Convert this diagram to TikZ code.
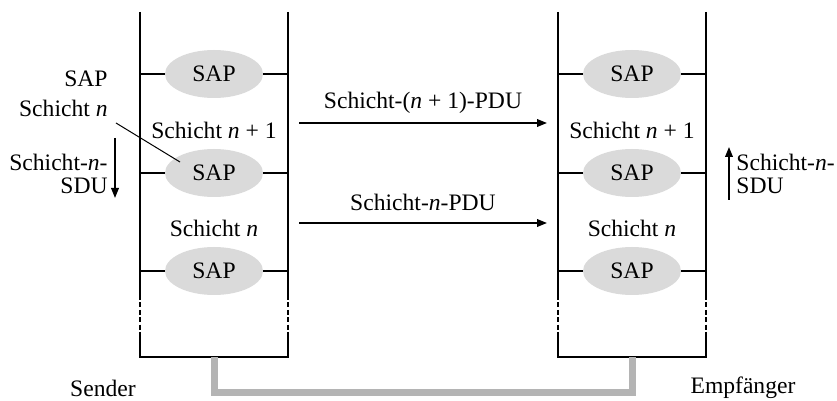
\documentclass[tikz,border=0pt]{standalone}
\usepackage{fontspec}
\setmainfont{Liberation Serif}
\usetikzlibrary{arrows.meta,shapes.geometric}
\definecolor{sapfill}{RGB}{218,218,218}
\definecolor{linkgray}{RGB}{180,180,180}
\begin{document}
\begin{tikzpicture}[x=0.5pt,y=-0.5pt,
  every node/.style={font=\fontsize{11.8}{13}\selectfont, inner sep=0pt},
  sap/.style={ellipse, fill=sapfill, minimum width=49pt, minimum height=24pt},
  wall/.style={line width=0.9pt},
  pdu/.style={line width=0.9pt, -{Triangle[length=5pt,width=3.8pt]}},
  sdu/.style={line width=0.9pt, -{Triangle[length=5pt,width=3.8pt]}},
  link/.style={line width=3.5pt, draw=linkgray}]
\useasboundingbox (0,0) rectangle (837,401);
% columns
\foreach \c/\xl/\xr in {L/140/288, R/558/706}{
  \coordinate (\c tl) at (\xl,12);
  \coordinate (\c tr) at (\xr,12);
  \coordinate (\c dl) at (\xl,295);
  \coordinate (\c dr) at (\xr,295);
  \coordinate (\c el) at (\xl,333);
  \coordinate (\c er) at (\xr,333);
  \coordinate (\c bl) at (\xl,357);
  \coordinate (\c br) at (\xr,357);
  \draw[wall] (\c tl) -- (\c dl);
  \draw[wall] (\c tr) -- (\c dr);
  \draw[wall, dash pattern=on 2.5pt off 1.2pt] (\c dl) -- (\c el);
  \draw[wall, dash pattern=on 2.5pt off 1.2pt] (\c dr) -- (\c er);
  \draw[wall] (\c el) -- (\c bl) -- (\c br) -- (\c er);
}
% SAPs
\foreach \c/\xm/\xl/\xr in {L/214/140/288, R/632/558/706}{
  \foreach \i/\y in {1/74, 2/173, 3/271}{
    \node[sap] (\c sap\i) at (\xm,\y) {SAP};
    \draw[wall] (\xl,\y) -- (\c sap\i.west);
    \draw[wall] (\c sap\i.east) -- (\xr,\y);
  }
  \node (\c n1) at (\xm,130) {Schicht \textit{n} + 1};
  \node (\c n) at (\xm,228) {Schicht \textit{n}};
}
% gray link
\coordinate (gl) at (214,357);
\coordinate (gr) at (632,357);
\draw[link] (gl) -- (214,393) -- (632,393) -- (gr);
% PDU arrows
\coordinate (a1s) at (299,123); \coordinate (a1e) at (547,123);
\coordinate (a2s) at (299,223); \coordinate (a2e) at (547,223);
\draw[pdu] (a1s) -- (a1e);
\draw[pdu] (a2s) -- (a2e);
\node (p1) at (423,103) {Schicht-(\textit{n} + 1)-PDU};
\node (p2) at (423,202) {Schicht-\textit{n}-PDU};
% left labels
\node[anchor=east] (lsap) at (108,79) {SAP};
\node[anchor=east] (lsn) at (108,108) {Schicht \textit{n}};
\coordinate (lead) at (180,162);
\draw[line width=0.5pt] (116,123) -- (lead);
\node[anchor=east] (lsdu1) at (108,162) {Schicht-\textit{n}-};
\node[anchor=east] (lsdu2) at (108,186) {SDU};
\coordinate (ld1) at (115,138); \coordinate (ld2) at (115,198);
\draw[sdu] (ld1) -- (ld2);
% right labels
\coordinate (ru1) at (729,200); \coordinate (ru2) at (729,147);
\draw[sdu] (ru1) -- (ru2);
\node[anchor=west] (rsdu1) at (736,162) {Schicht-\textit{n}-};
\node[anchor=west] (rsdu2) at (736,186) {SDU};
% bottom labels
\node (snd) at (103,388) {Sender};
\node (emp) at (743,388) {Empfänger};
\end{tikzpicture}
\end{document}
